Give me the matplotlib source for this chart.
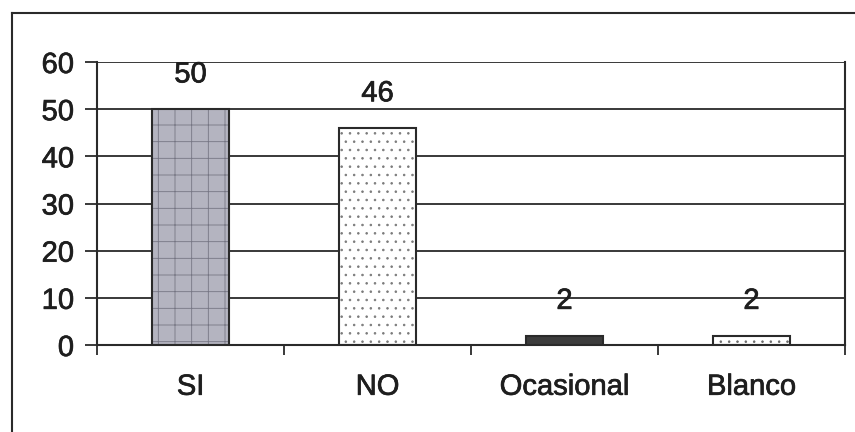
import matplotlib
matplotlib.use("Agg")
import matplotlib.pyplot as plt
import matplotlib.patheffects as pe
from matplotlib.lines import Line2D
import numpy as np

categories = ["SI", "NO", "Ocasional", "Blanco"]
values = [50, 46, 2, 2]
y_ticks = [0, 10, 20, 30, 40, 50, 60]

face_colors = ["#b4b4c0", "#ffffff", "#3c3c3c", "#ffffff"]
hatches = ["+", "..", "", ".."]
hatch_colors = ["#767684", "#7a7a7a", "#3c3c3c", "#6a6a6a"]

plt.rcParams['font.family'] = ['Liberation Sans', 'DejaVu Sans']
plt.rcParams['hatch.linewidth'] = 0.6

fig = plt.figure(figsize=(8.55, 4.32), dpi=100)
fig.patch.set_facecolor("white")
ax = fig.add_axes([97/855, 1-345/432, (845-97)/855, (345-62)/432])

line_col = "#2a2a2a"
text_col = "#1e1e1e"
fx = [pe.withStroke(linewidth=0.5, foreground=text_col)]
x = np.arange(len(categories))
width = 0.41

ax.set_ylim(0, 60)
ax.set_xlim(-0.5, len(categories)-0.5)
ax.set_yticks(y_ticks)
ax.yaxis.grid(True, color=line_col, linewidth=1.3)
ax.set_axisbelow(True)

for xi, v, fc, h, hc in zip(x, values, face_colors, hatches, hatch_colors):
    ax.bar(xi, v, width=width, color=fc, edgecolor=hc, hatch=h, linewidth=0, zorder=2)
    ax.bar(xi, v, width=width, fill=False, edgecolor=line_col, linewidth=1.5, zorder=3)
    ax.annotate(str(v), xy=(xi, v), xytext=(0, 25), textcoords="offset points",
                ha="center", va="center", fontsize=21, color=text_col, path_effects=fx)

ax.spines["top"].set_visible(False)
for s in ["left", "right", "bottom"]:
    ax.spines[s].set_color(line_col)
    ax.spines[s].set_linewidth(1.5)

ax.set_xticks(x)
ax.set_xticklabels(categories, fontsize=21, color=text_col)
ax.tick_params(axis="x", which="major", length=0, pad=20)
ax.set_xticks(np.arange(-0.5, len(categories), 1.0), minor=True)
ax.tick_params(axis="x", which="minor", length=7.5, width=1.3, color=line_col, direction="out")
ax.tick_params(axis="y", length=8.6, width=1.3, color=line_col, pad=8, labelsize=21, labelcolor=text_col)
for lbl in ax.get_xticklabels() + ax.get_yticklabels():
    lbl.set_path_effects(fx)

fig.add_artist(Line2D([12/855, 1.0], [1-13/432, 1-13/432], transform=fig.transFigure,
                      color=line_col, linewidth=1.5))
fig.add_artist(Line2D([12/855, 12/855], [0.0, 1-13/432], transform=fig.transFigure,
                      color=line_col, linewidth=1.5))

fig.savefig("out.png", dpi=100, facecolor="white")
